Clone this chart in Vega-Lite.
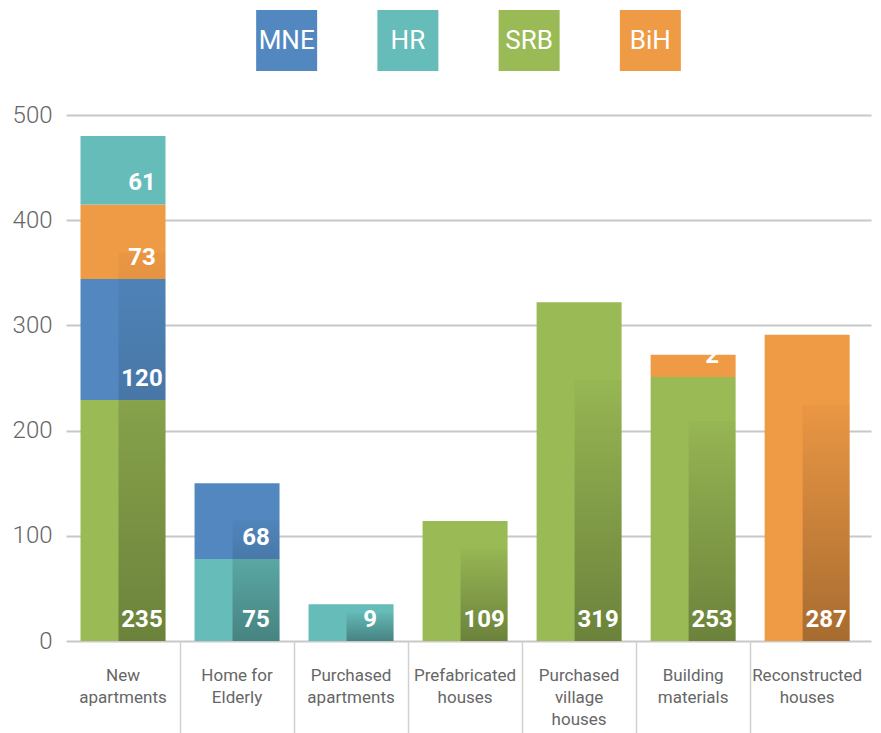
{
  "$schema": "https://vega.github.io/schema/vega-lite/v6.json",
  "padding": {"left": 12, "top": 0, "right": 5, "bottom": 0},
  "background": "white",
  "config": {"view": {"stroke": null}, "font": "Roboto"},
  "spacing": 22,
  "datasets": {
    "countries": [
      {"country": "MNE"}, {"country": "HR"}, {"country": "SRB"}, {"country": "BiH"}
    ],
    "values": [
      {"category": "New apartments", "country": "SRB", "value": 229, "label": 235, "order": 1},
      {"category": "New apartments", "country": "MNE", "value": 115, "label": 120, "order": 2},
      {"category": "New apartments", "country": "BiH", "value": 71, "label": 73, "order": 3},
      {"category": "New apartments", "country": "HR", "value": 65, "label": 61, "order": 4},
      {"category": "Home\u00a0for Elderly", "country": "HR", "value": 78, "label": 75, "order": 1},
      {"category": "Home\u00a0for Elderly", "country": "MNE", "value": 72, "label": 68, "order": 2},
      {"category": "Purchased apartments", "country": "HR", "value": 35, "label": 9, "order": 1},
      {"category": "Prefabricated houses", "country": "SRB", "value": 114, "label": 109, "order": 1},
      {"category": "Purchased village houses", "country": "SRB", "value": 322, "label": 319, "order": 1},
      {"category": "Building materials", "country": "SRB", "value": 251, "label": 253, "order": 1},
      {"category": "Building materials", "country": "BiH", "value": 21, "label": 2, "order": 2},
      {"category": "Reconstructed houses", "country": "BiH", "value": 291, "label": 287, "order": 1}
    ]
  },
  "vconcat": [
    {
      "width": 805,
      "height": 81,
      "data": {"name": "countries"},
      "encoding": {
        "x": {"field": "country", "type": "nominal",
              "scale": {"type": "point", "domain": ["_a", "MNE", "HR", "SRB", "BiH", "_b"], "padding": 0.82, "align": 0.5}, "axis": null}
      },
      "layer": [
        {
          "mark": {"type": "square", "size": 3721, "opacity": 1},
          "encoding": {
            "color": {"field": "country", "type": "nominal",
                      "scale": {"domain": ["MNE", "HR", "SRB", "BiH"], "range": ["#5288bf", "#65bcb9", "#9aba55", "#ef9a45"]},
                      "legend": null}
          }
        },
        {
          "mark": {"type": "text", "color": "white", "fontSize": 26, "baseline": "middle", "font": "Roboto"},
          "encoding": {"text": {"field": "country"}}
        }
      ]
    },
    {
      "width": 805,
      "height": 526,
      "data": {"name": "values"},
      "encoding": {
        "x": {
          "field": "category", "type": "nominal",
          "sort": ["New apartments", "Home\u00a0for Elderly", "Purchased apartments", "Prefabricated houses", "Purchased village houses", "Building materials", "Reconstructed houses"],
          "scale": {"paddingInner": 0, "paddingOuter": 0.03, "align": 0},
          "axis": {
            "title": null, "domain": false, "grid": false,
            "bandPosition": 0, "tickSize": 92, "tickColor": "#d0d0d0", "tickWidth": 1.5,
            "tickOpacity": {"condition": {"test": "datum.value === 'New apartments'", "value": 0}, "value": 1},
            "labelAngle": 0, "labelFont": "Roboto", "labelFontSize": 17, "labelColor": "#666666",
            "labelLineHeight": 22, "labelBaseline": "top", "labelPadding": -66,
            "labelOverlap": false, "labelBound": false, "labelFlush": false,
            "labelExpr": "split(datum.label, ' ')"
          }
        }
      },
      "layer": [
        {
          "transform": [{"stack": "value", "groupby": ["category"], "sort": [{"field": "order"}], "as": ["y0", "y1"]}],
          "mark": {"type": "bar", "width": 85},
          "encoding": {
            "y": {"field": "y1", "type": "quantitative", "scale": {"domain": [0, 500]},
                  "axis": {"title": null, "values": [0, 100, 200, 300, 400, 500], "domain": false, "ticks": false,
                           "labelFont": "Roboto", "labelFontSize": 24, "labelFontWeight": 300, "labelColor": "#666666",
                           "labelPadding": 14, "gridColor": "#c8c8c8", "gridWidth": 2}},
            "y2": {"field": "y0"},
            "color": {"field": "country", "type": "nominal",
                      "scale": {"domain": ["MNE", "HR", "SRB", "BiH"], "range": ["#5288bf", "#65bcb9", "#9aba55", "#ef9a45"]},
                      "legend": null}
          }
        },
        {
          "transform": [{"aggregate": [{"op": "sum", "field": "value", "as": "total"}], "groupby": ["category"]}],
          "mark": {
            "type": "bar", "width": 47, "xOffset": 19,
            "color": {
              "gradient": "linear", "x1": 0, "y1": 0, "x2": 0, "y2": 1,
              "stops": [
                {"offset": 0, "color": "rgba(0,0,0,0)"},
                {"offset": 0.23, "color": "rgba(0,0,0,0)"},
                {"offset": 0.231, "color": "rgba(0,0,0,0.025)"},
                {"offset": 1, "color": "rgba(0,0,0,0.3)"}
              ]
            }
          },
          "encoding": {"y": {"field": "total", "type": "quantitative"}}
        },
        {
          "transform": [{"stack": "value", "groupby": ["category"], "sort": [{"field": "order"}], "as": ["y0", "y1"]}],
          "mark": {"type": "text", "font": "Roboto", "fontWeight": "bold", "fontSize": 24, "color": "white",
                   "dx": 19, "dy": -14, "baseline": "alphabetic", "align": "center"},
          "encoding": {
            "y": {"field": "y0", "type": "quantitative"},
            "text": {"field": "label"}
          }
        }
      ]
    }
  ]
}
